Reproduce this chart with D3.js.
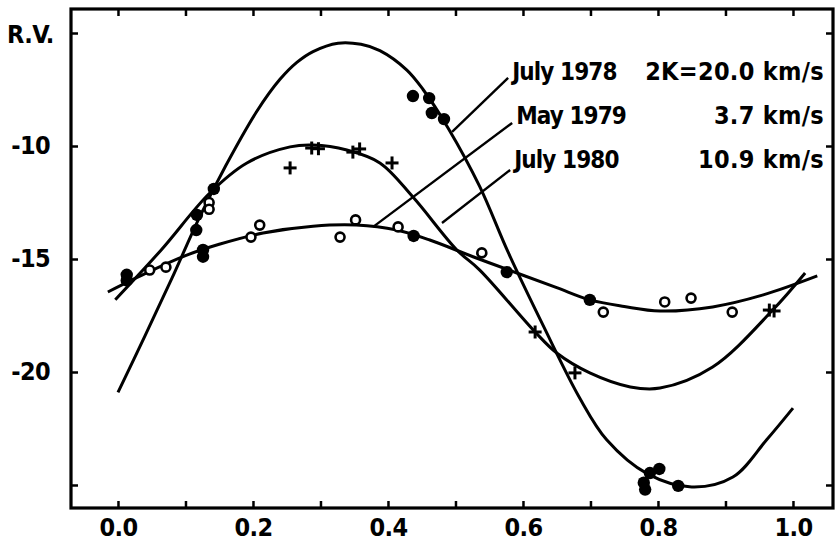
<!DOCTYPE html>
<html><head><meta charset="utf-8">
<script src="https://cdn.jsdelivr.net/npm/d3@7"></script>
<style>
html,body{margin:0;padding:0;background:#fff;}
svg{display:block;}
text{font-family:"DejaVu Sans Condensed","DejaVu Sans",sans-serif;font-weight:bold;fill:#000;letter-spacing:-0.6px;}
</style></head>
<body><svg id="c" width="836" height="542"></svg>
<script>
// ---- data (phase, radial velocity km/s) ----
const july1978Points = [
  [0.013,-15.7],[0.013,-15.95],[0.116,-13.72],[0.117,-13.05],[0.142,-11.9],
  [0.126,-14.6],[0.126,-14.9],[0.437,-7.79],[0.461,-7.88],[0.465,-8.54],[0.483,-8.81],
  [0.438,-13.98],[0.576,-15.58],[0.699,-16.81],
  [0.779,-24.9],[0.781,-25.2],[0.788,-24.47],[0.802,-24.29],[0.830,-25.04]
];
const may1979Points = [
  [0.047,-15.49],[0.071,-15.36],[0.135,-12.5],[0.135,-12.8],[0.197,-14.03],[0.210,-13.5],
  [0.329,-14.03],[0.352,-13.27],[0.415,-13.58],[0.539,-14.73],[0.719,-17.35],
  [0.810,-16.9],[0.849,-16.73],[0.910,-17.35]
];
const july1980Points = [
  [0.255,-10.97],[0.287,-10.09],[0.297,-10.12],[0.348,-10.27],[0.358,-10.13],[0.406,-10.75],
  [0.618,-18.23],[0.677,-20.04],[0.965,-17.26],[0.972,-17.3]
];
const july1978Curve = [
  [0.00,-20.9],[0.04,-18.4],[0.08,-15.85],[0.12,-13.2],[0.16,-10.85],[0.206,-8.45],
  [0.24,-7.05],[0.265,-6.3],[0.289,-5.82],[0.326,-5.45],[0.36,-5.5],[0.388,-5.78],
  [0.428,-6.64],[0.452,-7.5],[0.489,-9.2],[0.536,-11.8],[0.578,-14.7],[0.63,-17.95],
  [0.684,-21.15],[0.724,-23.0],[0.784,-24.5],[0.85,-25.09],[0.911,-24.65],[0.961,-23.0],[1.0,-21.6]
];
const july1980Curve = [
  [-0.004,-16.8],[0.064,-14.6],[0.136,-12.08],[0.191,-10.75],[0.255,-10.04],[0.289,-9.96],
  [0.339,-10.18],[0.388,-10.75],[0.437,-12.26],[0.502,-14.6],[0.536,-15.49],[0.618,-18.23],
  [0.650,-19.16],[0.699,-20.04],[0.759,-20.66],[0.803,-20.71],[0.881,-19.78],[0.970,-17.26],[1.018,-15.62]
];
const may1979Curve = [
  [-0.015,-16.46],[0.047,-15.55],[0.10,-14.85],[0.15,-14.35],[0.215,-13.85],[0.289,-13.55],
  [0.353,-13.5],[0.413,-13.72],[0.462,-14.16],[0.526,-14.9],[0.591,-15.62],[0.65,-16.27],
  [0.699,-16.81],[0.75,-17.1],[0.803,-17.3],[0.881,-17.12],[0.956,-16.59],[1.036,-15.75]
];
const xTicks = [0,0.1,0.2,0.3,0.4,0.5,0.6,0.7,0.8,0.9,1.0];
const xTickLabels = ["0.0","","0.2","","0.4","","0.6","","0.8","","1.0"];
const yTicks = [-5,-10,-15,-20,-25];
const yTickLabels = ["","-10","-15","-20",""];
const legendNames = ["July 1978","May 1979","July 1980"];
const legendValues = ["2K=20.0 km/s","3.7 km/s","10.9 km/s"];
// leader lines: [label-end phase, label-end RV] -> [curve phase, curve RV]
const leaderFrom = [[0.578,-6.99],[0.584,-8.98],[0.581,-11.06]];
const leaderTo = [[0.495,-9.38],[0.378,-13.58],[0.480,-13.41]];

// ---- layout ----
const L=71,R=833,T=9,B=508;
const svg=d3.select("#c");
const x=d3.scaleLinear().domain([-0.0696,1.0593]).range([L,R]);
const y=d3.scaleLinear().domain([-26.018,-3.938]).range([B,T]);

// axes
const axB=d3.axisBottom(x).tickValues(xTicks).tickSizeInner(-7).tickSizeOuter(0).tickPadding(10)
  .tickFormat((d,i)=>xTickLabels[i]);
const axT=d3.axisTop(x).tickValues(xTicks).tickSizeInner(-7).tickSizeOuter(0).tickFormat("");
const axL=d3.axisLeft(y).tickValues(yTicks).tickSizeInner(-7).tickSizeOuter(0).tickPadding(21)
  .tickFormat((d,i)=>yTickLabels[i]);
const axR=d3.axisRight(y).tickValues(yTicks).tickSizeInner(-7).tickSizeOuter(0).tickFormat("");
function style(g){
  g.select(".domain").remove();
  g.selectAll("line").attr("stroke","#000").attr("stroke-width",2.5);
  g.selectAll("text").attr("font-size",25).attr("fill","#000").attr("font-family",null);
}
svg.append("g").attr("transform",`translate(0,${B})`).call(axB).call(style);
svg.append("g").attr("transform",`translate(0,${T})`).call(axT).call(style);
svg.append("g").attr("transform",`translate(${L},0)`).call(axL).call(style);
svg.append("g").attr("transform",`translate(${R},0)`).call(axR).call(style);
svg.append("rect").attr("x",L).attr("y",T).attr("width",R-L).attr("height",B-T)
  .attr("fill","none").attr("stroke","#000").attr("stroke-width",3.2);

svg.append("text").attr("x",7).attr("y",43).attr("font-size",25).text("R.V.");

// curves
const line=d3.line().x(d=>x(d[0])).y(d=>y(d[1])).curve(d3.curveCatmullRom.alpha(0.5));
[july1978Curve,july1980Curve,may1979Curve].forEach(c=>{
  svg.append("path").attr("d",line(c)).attr("fill","none").attr("stroke","#000").attr("stroke-width",3);
});

// leader lines
leaderFrom.forEach((f,i)=>{
  svg.append("line").attr("x1",x(f[0])).attr("y1",y(f[1])).attr("x2",x(leaderTo[i][0])).attr("y2",y(leaderTo[i][1]))
    .attr("stroke","#000").attr("stroke-width",2.4);
});

// legend text
const legY=[80,124,168];
legendNames.forEach((n,i)=>{
  svg.append("text").attr("x",x(leaderFrom[i][0])+4).attr("y",legY[i]).attr("font-size",24)
    .style("letter-spacing","-0.9px").text(n);
  svg.append("text").attr("x",824).attr("y",legY[i]).attr("font-size",25).attr("text-anchor","end")
    .style("letter-spacing","0.3px").text(legendValues[i]);
});

// points
svg.append("g").selectAll("circle").data(july1978Points).join("circle")
  .attr("cx",d=>x(d[0])).attr("cy",d=>y(d[1])).attr("r",6.2).attr("fill","#000");
svg.append("g").selectAll("circle").data(may1979Points).join("circle")
  .attr("cx",d=>x(d[0])).attr("cy",d=>y(d[1])).attr("r",4.5).attr("fill","#fff").attr("stroke","#000").attr("stroke-width",2.6);
const cr=svg.append("g").attr("stroke","#000").attr("stroke-width",3);
july1980Points.forEach(d=>{
  const cx=x(d[0]),cy=y(d[1]);
  cr.append("line").attr("x1",cx-6.5).attr("x2",cx+6.5).attr("y1",cy).attr("y2",cy);
  cr.append("line").attr("x1",cx).attr("x2",cx).attr("y1",cy-6.5).attr("y2",cy+6.5);
});
</script></body></html>
